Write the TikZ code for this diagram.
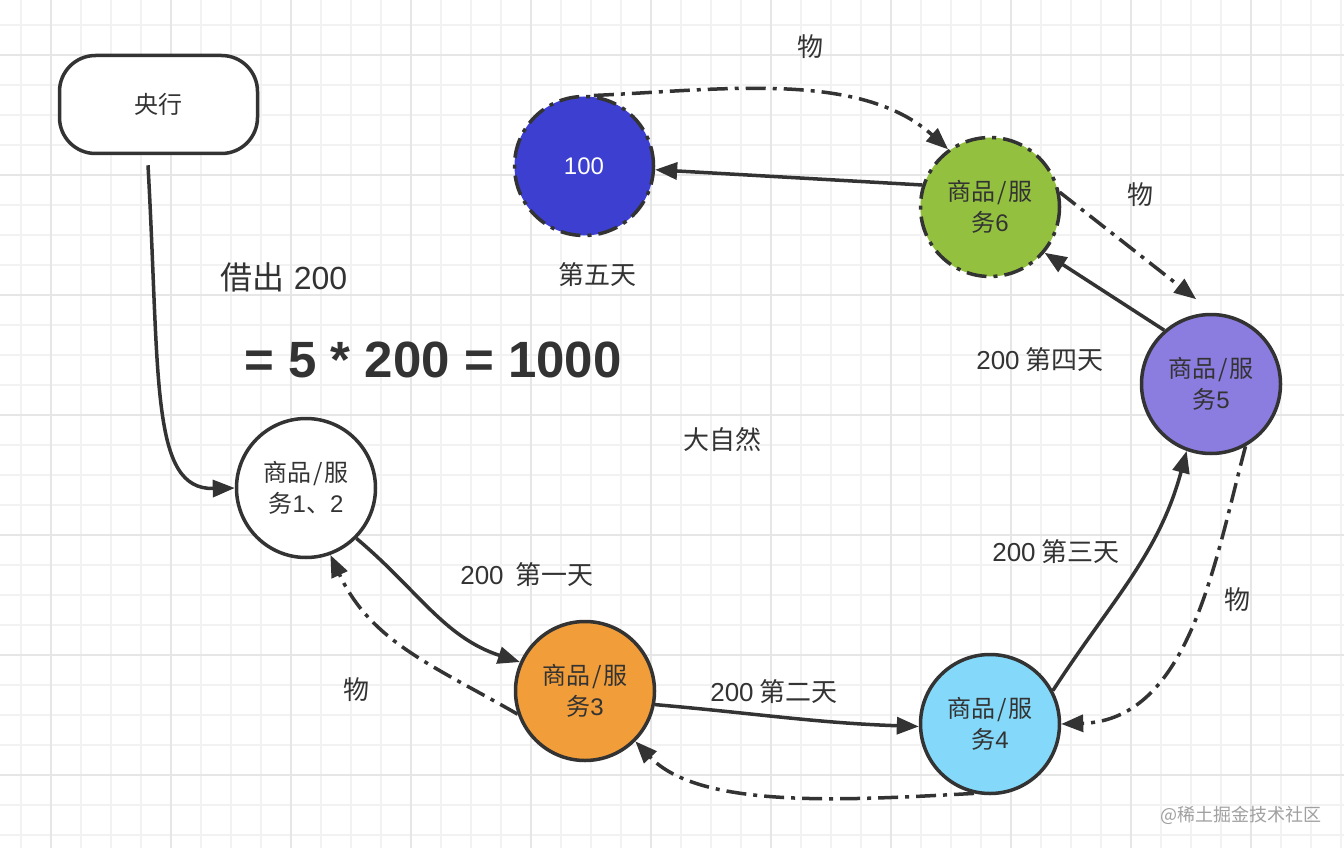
\documentclass[tikz,border=0pt]{standalone}
\usepackage{fontspec}
\setmainfont{Noto Sans CJK SC}
\newfontfamily\lat{Liberation Sans}
\usetikzlibrary{arrows.meta}
\definecolor{ink}{HTML}{333333}
\definecolor{gminor}{HTML}{F2F2F2}
\definecolor{gmajor}{HTML}{E6E6E6}
\definecolor{corange}{HTML}{F09D3A}
\definecolor{cblue}{HTML}{84D9FA}
\definecolor{cpurple}{HTML}{8B7CE0}
\definecolor{cgreen}{HTML}{93C13F}
\definecolor{cdeep}{HTML}{3C3FD0}
\definecolor{wm}{HTML}{A0A0A0}
\newcommand{\spl}{{\kern1.5pt/\kern1.5pt}}
\begin{document}
\begin{tikzpicture}[x=1pt,y=-1pt,
  circ/.style={circle,draw=ink,line width=3.5pt,minimum size=139pt,inner sep=0pt,
    align=center,text=ink,font=\fontsize{24}{31}\selectfont},
  ddash/.style={dash pattern=on 20pt off 7pt on 4pt off 7pt},
  lbl/.style={text=ink,font=\fontsize{26}{30}\selectfont,inner sep=0pt},
  conn/.style={draw=ink,line width=3.5pt,-{Triangle[length=22pt,width=17pt]}},
  gmin/.style={draw=gminor,line width=2pt},
  gmaj/.style={draw=gmajor,line width=2pt},
]
\useasboundingbox (0,0) rectangle (1344,848);
\fill[white] (0,0) rectangle (1344,848);
% grid
\foreach \x in {21,51,...,1341} \draw[gmin] (\x,0) -- (\x,848);
\foreach \y in {25,55,...,845} \draw[gmin] (0,\y) -- (1344,\y);
\foreach \x in {51,171,...,1341} \draw[gmaj] (\x,0) -- (\x,848);
\foreach \y in {55,175,...,845} \draw[gmaj] (0,\y) -- (1344,\y);

% nodes
\node[draw=ink,line width=3.5pt,rounded corners=36pt,minimum width=198pt,minimum height=98pt,
  fill=white,text=ink,font=\fontsize{24}{30}\selectfont] (cb) at (158.5,104.5) {央行};
\node[circ,fill=white] (c1) at (306,488) {商品\spl 服\\务{\lat 1}、{\lat 2}};
\node[circ,fill=corange] (c3) at (585,691) {商品\spl 服\\务{\lat 3}};
\node[circ,fill=cblue] (c4) at (990,724) {商品\spl 服\\务{\lat 4}};
\node[circ,fill=cpurple] (c5) at (1211,384) {商品\spl 服\\务{\lat 5}};
\node[circ,fill=cgreen,ddash] (c6) at (990,207) {商品\spl 服\\务{\lat 6}};
\node[circ,fill=cdeep,ddash,text=white,font=\fontsize{24}{30}\selectfont\lat] (c0) at (584,166) {100};

% labels
\node[lbl,font=\fontsize{32}{38}\selectfont] (t1) at (284,277) {借出\hspace*{9pt}{\lat 200}};
\node[lbl,font=\fontsize{51}{56}\selectfont\lat\bfseries] (t2) at (433,360) {= 5 * 200 = 1000};
\node[lbl] (t3) at (597,275) {第五天};
\node[lbl] (t4) at (722,440) {大自然};
\node[lbl] (d1) at (527,575) {{\lat 200}\hspace*{12pt}第一天};
\node[lbl] (d2) at (774,692) {{\lat 200}\hspace*{6pt}第二天};
\node[lbl] (d3) at (1056,552) {{\lat 200}\hspace*{6pt}第三天};
\node[lbl] (d4) at (1040,360) {{\lat 200}\hspace*{6pt}第四天};
\node[lbl] (w1) at (810,47) {物};
\node[lbl] (w2) at (1140,195) {物};
\node[lbl] (w3) at (1237,600) {物};
\node[lbl] (w4) at (356,690) {物};
\node[text=wm,font=\fontsize{18}{22}\selectfont,inner sep=0pt] (wmk) at (1241,815) {@稀土掘金技术社区};

% connectors
\draw[conn] ([xshift=-10.5pt,yshift=-10pt]cb.south) .. controls (160,380) and (150,490) .. (c1.west);
\draw[conn] (c1.-45) to[out=-40,in=162] (c3.156);
\draw[conn,ddash] (c3.199) to[out=150,in=-65] (c1.-70);
\draw[conn] (c3.-11) to[out=-5,in=178] (c4.182);
\draw[conn,ddash] (c4.-103) .. controls (850,800) and (700,810) .. (c3.-45);
\draw[conn] (c4.28) to[out=57,in=-105] (c5.-110);
\draw[conn,ddash] (c5.-61) .. controls (1215,560) and (1190,720) .. (c4.east);
\draw[conn] (c5.131) -- (c6.-40);
\draw[conn,ddash,shorten >=22pt] (c6.12) -- (c5.88);
\draw[conn] (c6.162) -- (c0.-3);
\draw[conn,ddash] (c0.82) .. controls (720,90) and (860,70) .. (c6.126);
\end{tikzpicture}
\end{document}
